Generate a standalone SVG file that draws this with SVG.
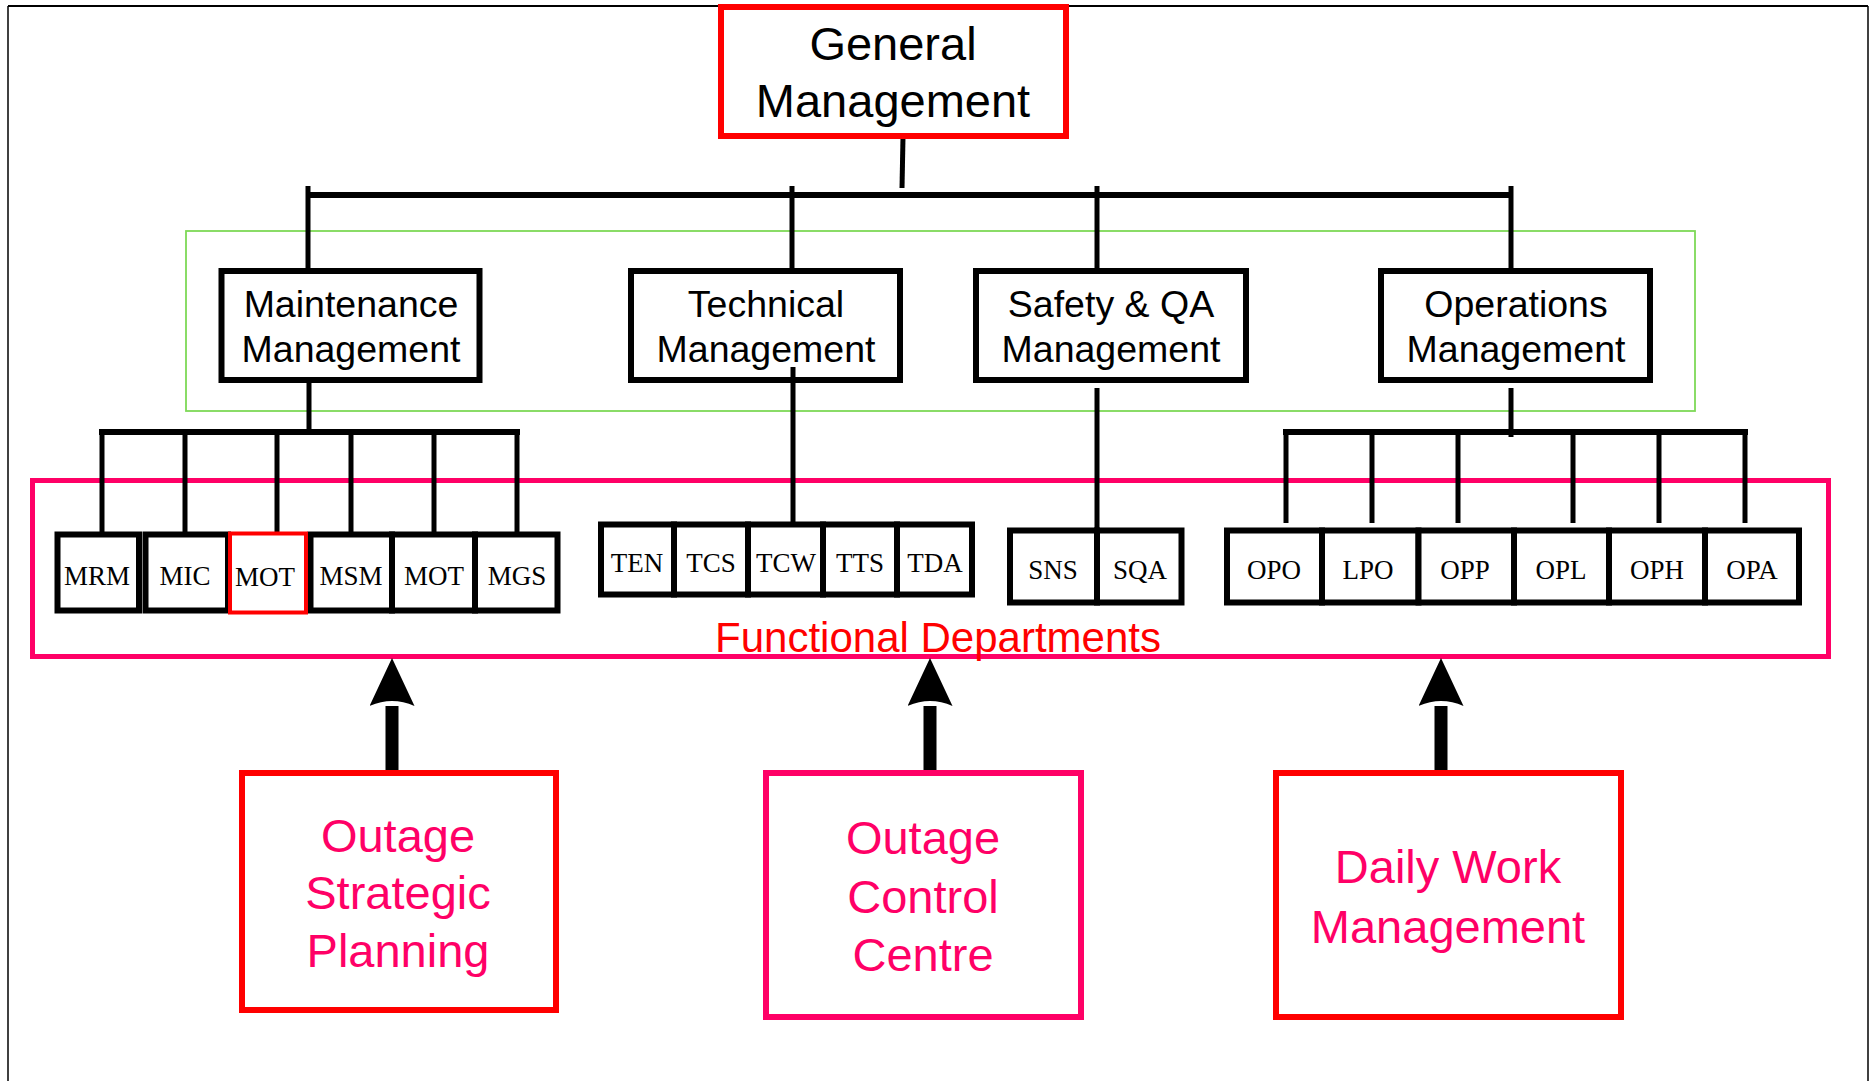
<svg xmlns="http://www.w3.org/2000/svg" width="1873" height="1081" viewBox="0 0 1873 1081">
<style>
.bg{fill:#fff}
.box{fill:#fff;stroke:#000;stroke-width:6}
.redbox{fill:#fff;stroke:#ff0000;stroke-width:6}
.pinkbox{fill:#fff;stroke:#ff0066;stroke-width:6}
.ln{stroke:#000;stroke-width:5;fill:none}
.bar{stroke:#000;stroke-width:6;fill:none}
.shaft{stroke:#000;stroke-width:13;fill:none}
.t1{font-family:"Liberation Sans",Arial,sans-serif;font-size:47px;fill:#000;text-anchor:middle}
.t2{font-family:"Liberation Sans",Arial,sans-serif;font-size:37.5px;fill:#000;text-anchor:middle}
.t3{font-family:"Liberation Serif","Times New Roman",serif;font-size:27px;fill:#000;text-anchor:middle}
.t4{font-family:"Liberation Sans",Arial,sans-serif;font-size:47px;fill:#ff0066;text-anchor:middle}
.t5{font-family:"Liberation Sans",Arial,sans-serif;font-size:42px;fill:#ff0000;text-anchor:middle}
</style>
<defs>
<marker id="ah" viewBox="0 0 48 45" refX="0" refY="22.5" markerWidth="48" markerHeight="45" markerUnits="userSpaceOnUse" orient="auto">
<path d="M0,0 L48,22.5 L0,45 Q10,22.5 0,0 z" fill="#000"/>
</marker>
</defs>
<rect class="bg" x="0" y="0" width="1873" height="1081"/>
<g id="frame">
<line x1="8" y1="6" x2="1868" y2="6" stroke="#000" stroke-width="2"/>
<line x1="8" y1="6" x2="8" y2="1081" stroke="#000" stroke-width="1.5"/>
<line x1="1868" y1="6" x2="1868" y2="1081" stroke="#000" stroke-width="1.5"/>
</g>
<g id="management-group">
<rect x="186" y="231" width="1509" height="180" fill="none" stroke="#7ed957" stroke-width="1.8"/>
</g>
<g id="functional-departments">
<rect x="32.5" y="480.5" width="1796" height="176" fill="none" stroke="#ff0066" stroke-width="5"/>
<text class="t5" x="938" y="652">Functional Departments</text>
</g>
<g id="connectors">
<line class="ln" x1="903" y1="137" x2="902" y2="188"/>
<line class="bar" x1="306" y1="195" x2="1513" y2="195"/>
<line class="ln" x1="308" y1="186" x2="308" y2="270"/>
<line class="ln" x1="792" y1="186" x2="792" y2="270"/>
<line class="ln" x1="1097" y1="186" x2="1097" y2="270"/>
<line class="ln" x1="1511" y1="186" x2="1511" y2="270"/>
<line class="ln" x1="309" y1="382" x2="309" y2="433"/>
<line class="bar" x1="99" y1="432" x2="520" y2="432"/>
<line class="ln" x1="102" y1="432" x2="102" y2="533"/>
<line class="ln" x1="185" y1="432" x2="185" y2="533"/>
<line class="ln" x1="277" y1="432" x2="277" y2="533"/>
<line class="ln" x1="351" y1="432" x2="351" y2="533"/>
<line class="ln" x1="434" y1="432" x2="434" y2="533"/>
<line class="ln" x1="517" y1="432" x2="517" y2="533"/>
<line class="ln" x1="793" y1="367" x2="793" y2="523"/>
<line class="ln" x1="1097" y1="388" x2="1097" y2="529"/>
<line class="ln" x1="1511" y1="388" x2="1511" y2="437"/>
<line class="bar" x1="1283" y1="432" x2="1748" y2="432"/>
<line class="ln" x1="1286" y1="432" x2="1286" y2="523"/>
<line class="ln" x1="1372" y1="432" x2="1372" y2="523"/>
<line class="ln" x1="1458" y1="432" x2="1458" y2="523"/>
<line class="ln" x1="1573" y1="432" x2="1573" y2="523"/>
<line class="ln" x1="1659" y1="432" x2="1659" y2="523"/>
<line class="ln" x1="1745" y1="432" x2="1745" y2="523"/>
<line class="shaft" x1="392" y1="772" x2="392" y2="706" marker-end="url(#ah)"/>
<line class="shaft" x1="930" y1="772" x2="930" y2="706" marker-end="url(#ah)"/>
<line class="shaft" x1="1441" y1="772" x2="1441" y2="706" marker-end="url(#ah)"/>
</g>
<g id="general-management">
<rect class="redbox" x="721" y="7" width="345" height="129"/>
<text class="t1" x="893" y="60">General</text>
<text class="t1" x="893" y="117">Management</text>
</g>
<g id="maintenance-management">
<rect class="box" x="221.5" y="271" width="258" height="109"/>
<text class="t2" x="351" y="317">Maintenance</text>
<text class="t2" x="351" y="362">Management</text>
</g>
<g id="technical-management">
<rect class="box" x="631" y="271" width="269" height="109"/>
<text class="t2" x="766" y="317">Technical</text>
<text class="t2" x="766" y="362">Management</text>
</g>
<line class="ln" x1="793" y1="367" x2="793" y2="382"/>
<g id="safety-qa-management">
<rect class="box" x="976" y="271" width="270" height="109"/>
<text class="t2" x="1111" y="317">Safety &amp; QA</text>
<text class="t2" x="1111" y="362">Management</text>
</g>
<g id="operations-management">
<rect class="box" x="1381" y="271" width="269" height="109"/>
<text class="t2" x="1516" y="317">Operations</text>
<text class="t2" x="1516" y="362">Management</text>
</g>
<g id="MRM"><rect class="box" x="57.5" y="534.5" width="81.5" height="76"/><text class="t3" x="97" y="585">MRM</text></g>
<g id="MIC"><rect class="box" x="145.5" y="534.5" width="82.5" height="76"/><text class="t3" x="185" y="585">MIC</text></g>
<g id="MSM"><rect class="box" x="310.5" y="534.5" width="81.5" height="76"/><text class="t3" x="351" y="585">MSM</text></g>
<g id="MOT-2"><rect class="box" x="392" y="534.5" width="83" height="76"/><text class="t3" x="434" y="585">MOT</text></g>
<g id="MGS"><rect class="box" x="475" y="534.5" width="82.5" height="76"/><text class="t3" x="517" y="585">MGS</text></g>
<g id="MOT-1"><rect x="230" y="533.5" width="76" height="79" fill="#fff" stroke="#ff0000" stroke-width="4"/><text class="t3" x="265" y="586">MOT</text></g>
<g id="TEN"><rect class="box" x="601" y="524.5" width="73" height="70"/><text class="t3" x="637" y="572">TEN</text></g>
<g id="TCS"><rect class="box" x="674" y="524.5" width="74" height="70"/><text class="t3" x="711" y="572">TCS</text></g>
<g id="TCW"><rect class="box" x="748" y="524.5" width="75" height="70"/><text class="t3" x="786" y="572">TCW</text></g>
<g id="TTS"><rect class="box" x="823" y="524.5" width="74" height="70"/><text class="t3" x="860" y="572">TTS</text></g>
<g id="TDA"><rect class="box" x="897" y="524.5" width="75" height="70"/><text class="t3" x="935" y="572">TDA</text></g>
<g id="SNS"><rect class="box" x="1010" y="530.5" width="87" height="72"/><text class="t3" x="1053" y="579">SNS</text></g>
<g id="SQA"><rect class="box" x="1097" y="530.5" width="84.5" height="72"/><text class="t3" x="1140" y="579">SQA</text></g>
<g id="OPO"><rect class="box" x="1227" y="530.5" width="95" height="72"/><text class="t3" x="1274" y="579">OPO</text></g>
<g id="LPO"><rect class="box" x="1322" y="530.5" width="96.5" height="72"/><text class="t3" x="1368" y="579">LPO</text></g>
<g id="OPP"><rect class="box" x="1418.5" y="530.5" width="95.5" height="72"/><text class="t3" x="1465" y="579">OPP</text></g>
<g id="OPL"><rect class="box" x="1514" y="530.5" width="95" height="72"/><text class="t3" x="1561" y="579">OPL</text></g>
<g id="OPH"><rect class="box" x="1609" y="530.5" width="96" height="72"/><text class="t3" x="1657" y="579">OPH</text></g>
<g id="OPA"><rect class="box" x="1705" y="530.5" width="94" height="72"/><text class="t3" x="1752" y="579">OPA</text></g>
<g id="outage-strategic-planning">
<rect class="redbox" x="242" y="773" width="314" height="237"/>
<text class="t4" x="398" y="852">Outage</text>
<text class="t4" x="398" y="909">Strategic</text>
<text class="t4" x="398" y="967">Planning</text>
</g>
<g id="outage-control-centre">
<rect class="pinkbox" x="766" y="773" width="315" height="244"/>
<text class="t4" x="923" y="854">Outage</text>
<text class="t4" x="923" y="913">Control</text>
<text class="t4" x="923" y="971">Centre</text>
</g>
<g id="daily-work-management">
<rect class="redbox" x="1276" y="773" width="345" height="244"/>
<text class="t4" x="1448" y="883">Daily Work</text>
<text class="t4" x="1448" y="943">Management</text>
</g>
</svg>
